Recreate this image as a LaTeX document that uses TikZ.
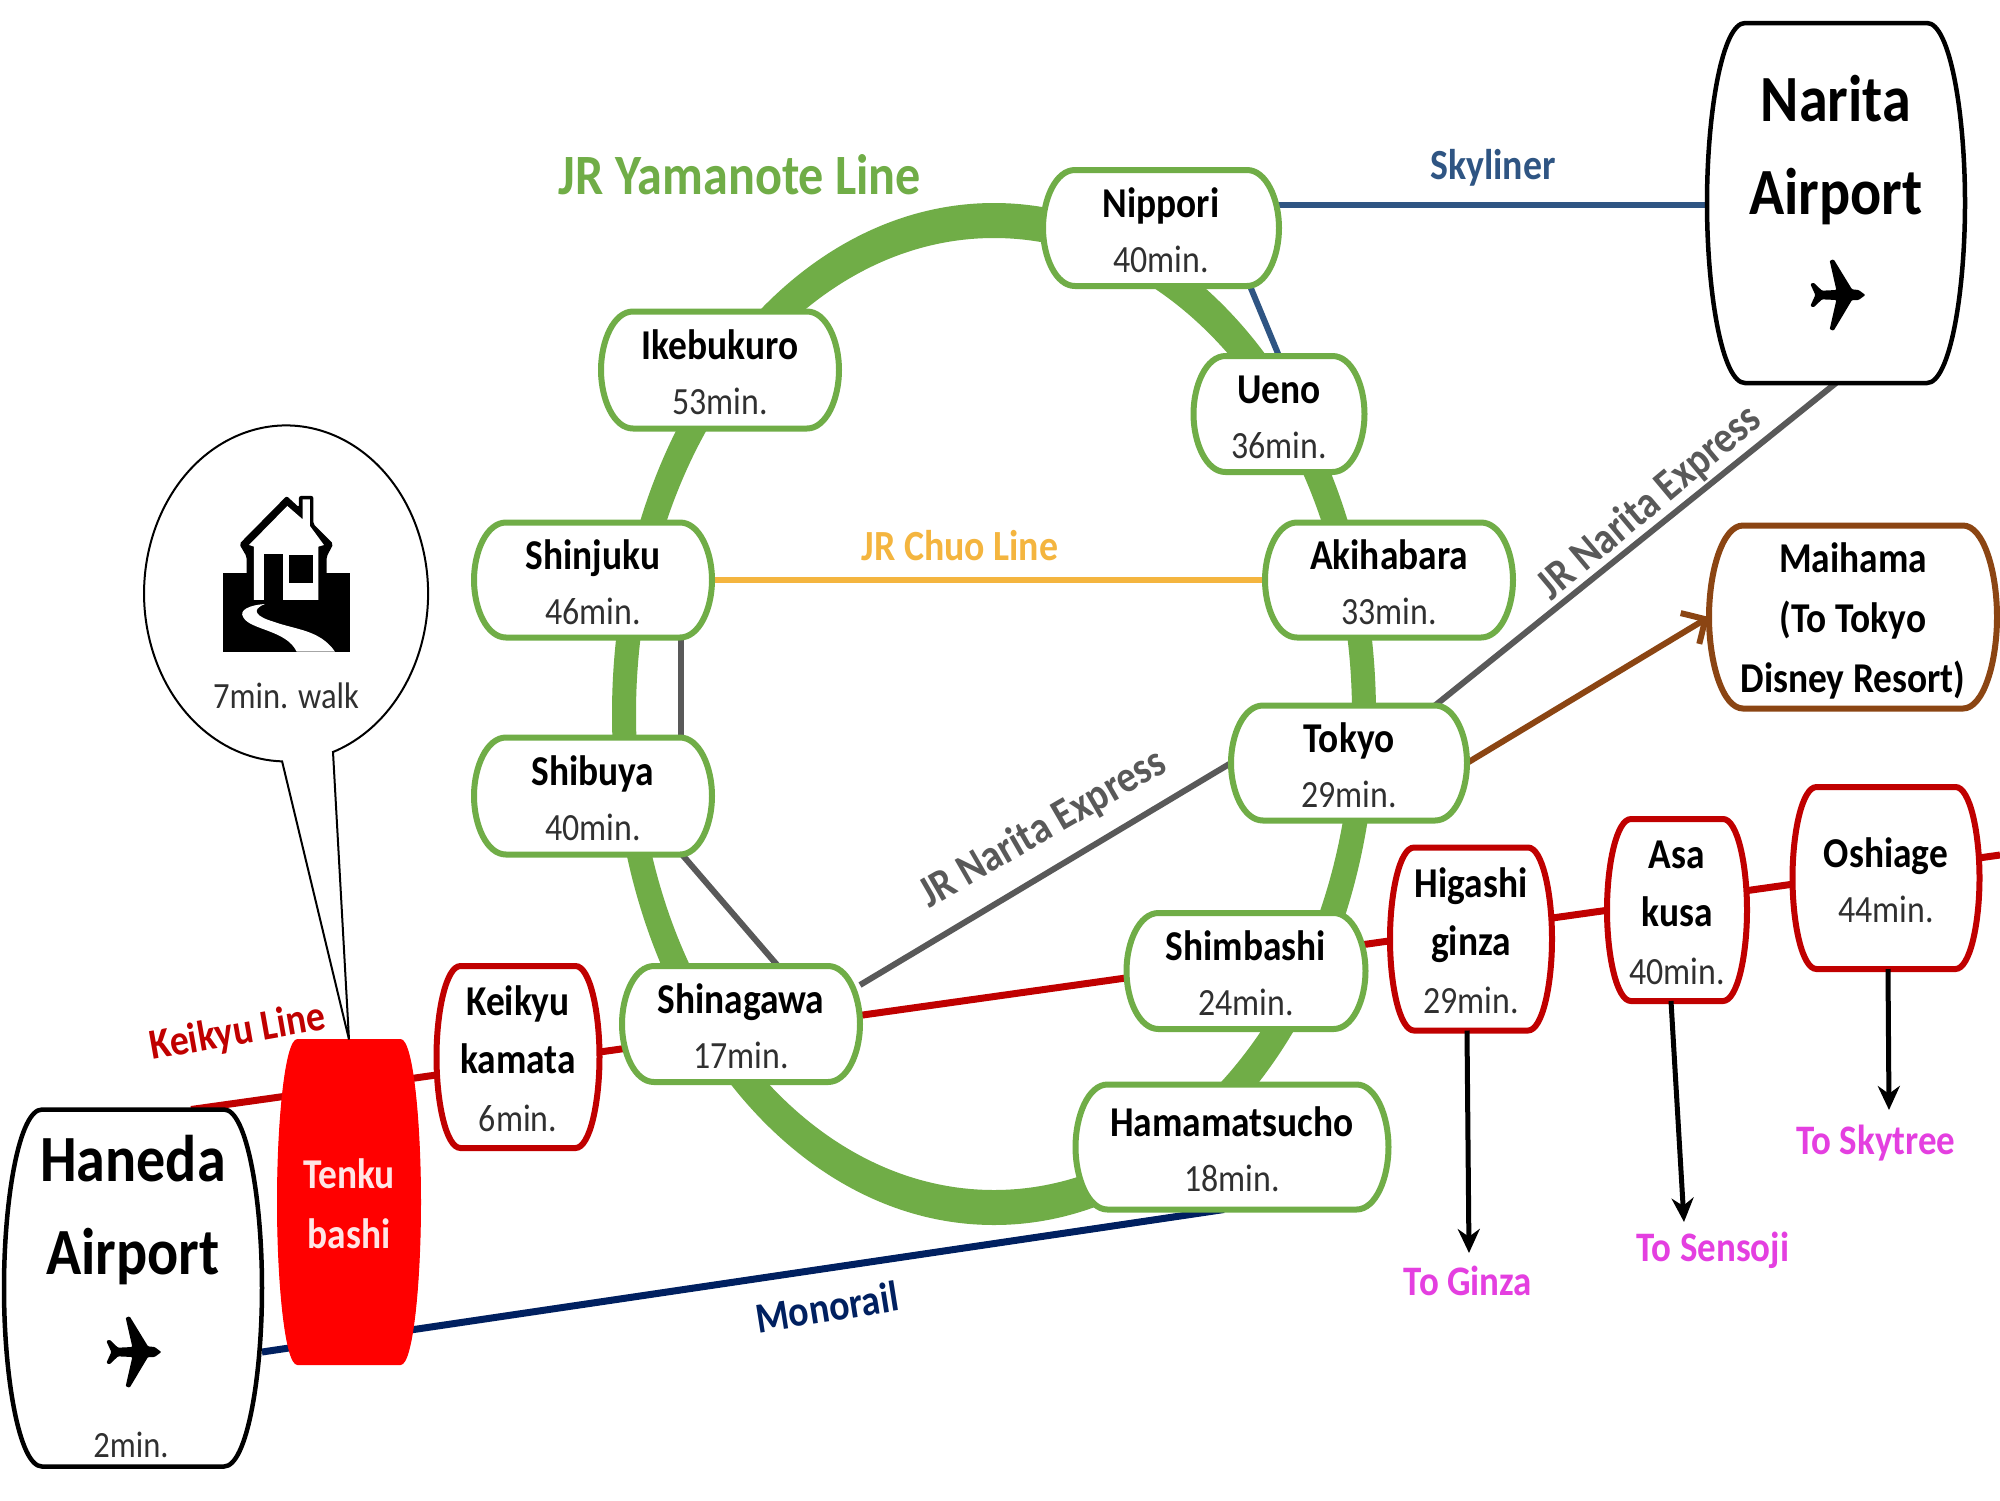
\documentclass[tikz,border=0pt]{standalone}
\usepackage{fontspec}
\setmainfont[FakeStretch=0.88]{Carlito}
\usetikzlibrary{arrows.meta}
\pgfdeclarelayer{bg}
\pgfsetlayers{bg,main}
\makeatletter
\newdimen\bxa \newdimen\bxb \newdimen\bya \newdimen\byb \newdimen\bym \newdimen\bhh
\def\barrelinset{30pt}
\pgfdeclareshape{barrel}{
  \inheritsavedanchors[from=rectangle]
  \saveddimen\binset{\pgf@x=\barrelinset}
  \inheritanchorborder[from=rectangle]
  \inheritanchor[from=rectangle]{center}
  \inheritanchor[from=rectangle]{north}
  \inheritanchor[from=rectangle]{south}
  \inheritanchor[from=rectangle]{east}
  \inheritanchor[from=rectangle]{west}
  \inheritanchor[from=rectangle]{base}
  \inheritanchor[from=rectangle]{mid}
  \backgroundpath{
    \southwest \bxa=\pgf@x \bya=\pgf@y
    \northeast \bxb=\pgf@x \byb=\pgf@y
    \bym=\dimexpr(\bya+\byb)/2\relax
    \bhh=\dimexpr(\byb-\bya)/4\relax
    \pgfpathmoveto{\pgfqpoint{\dimexpr\bxa+\binset\relax}{\byb}}
    \pgfpathlineto{\pgfqpoint{\dimexpr\bxb-\binset\relax}{\byb}}
    \pgfpathcurveto{\pgfqpoint{\dimexpr\bxb-\binset*2/5\relax}{\byb}}{\pgfqpoint{\bxb}{\dimexpr\bym+\bhh\relax}}{\pgfqpoint{\bxb}{\bym}}
    \pgfpathcurveto{\pgfqpoint{\bxb}{\dimexpr\bym-\bhh\relax}}{\pgfqpoint{\dimexpr\bxb-\binset*2/5\relax}{\bya}}{\pgfqpoint{\dimexpr\bxb-\binset\relax}{\bya}}
    \pgfpathlineto{\pgfqpoint{\dimexpr\bxa+\binset\relax}{\bya}}
    \pgfpathcurveto{\pgfqpoint{\dimexpr\bxa+\binset*2/5\relax}{\bya}}{\pgfqpoint{\bxa}{\dimexpr\bym-\bhh\relax}}{\pgfqpoint{\bxa}{\bym}}
    \pgfpathcurveto{\pgfqpoint{\bxa}{\dimexpr\bym+\bhh\relax}}{\pgfqpoint{\dimexpr\bxa+\binset*2/5\relax}{\byb}}{\pgfqpoint{\dimexpr\bxa+\binset\relax}{\byb}}
    \pgfpathclose
  }
}
\makeatother
\definecolor{jrgreen}{HTML}{70AD47}
\definecolor{kred}{HTML}{C00000}
\definecolor{navy}{HTML}{002060}
\definecolor{skyblue}{HTML}{2F5583}
\definecolor{chuo}{HTML}{F4B53F}
\definecolor{nexgrey}{HTML}{595959}
\definecolor{disney}{HTML}{8B4513}
\definecolor{pinkto}{HTML}{E43FE0}
\definecolor{timegrey}{HTML}{303030}
\newcommand{\nm}[1]{{\fontsize{42.5pt}{55pt}\selectfont\bfseries #1}}
\newcommand{\tm}[1]{{\fontsize{38.5pt}{55pt}\selectfont\color{timegrey}#1}}
\tikzset{
  barrel inset/.code={\def\barrelinset{#1}},
  stnbase/.style={shape=barrel,fill=white,inner sep=0pt,outer sep=0pt,align=center},
  twolines/.style={font=\fontsize{40pt}{55pt}\selectfont,text height=91pt,text depth=3pt},
  threelines/.style={font=\fontsize{40pt}{58pt}\selectfont,text height=151pt,text depth=3pt},
  grn/.style={stnbase,twolines,draw=jrgreen,line width=6pt,barrel inset=32pt},
  redn/.style={stnbase,threelines,draw=kred,line width=6pt,barrel inset=24pt},
  brownn/.style={stnbase,draw=disney,line width=6pt,barrel inset=34pt,font=\fontsize{40pt}{60pt}\selectfont,text height=153pt,text depth=3pt},
  airport/.style={stnbase,draw=black,line width=4.5pt,barrel inset=38pt},
  tenkun/.style={stnbase,draw=red,fill=red,line width=1pt,barrel inset=20pt,text=white!90!red,font=\fontsize{40pt}{60pt}\selectfont,text height=95pt,text depth=3pt},
  bigtxt/.style={align=center,inner sep=0pt,font=\fontsize{66pt}{93pt}\selectfont\bfseries},
  linelabel/.style={inner sep=0pt,font=\fontsize{43pt}{50pt}\selectfont\bfseries},
  nexlabel/.style={linelabel,text=nexgrey,font=\fontsize{44.5pt}{50pt}\selectfont\bfseries},
  tolabel/.style={inner sep=0pt,text=pinkto,font=\fontsize{42pt}{46pt}\selectfont\bfseries},
  smalltxt/.style={inner sep=0pt,text=timegrey,font=\fontsize{37pt}{46pt}\selectfont},
  conn/.style={line width=6pt},
  bigarrow/.style={line width=5pt,black,-{Stealth[length=24pt,width=22pt]}},
  plane/.pic={\fill[x=0.3333pt,y=-0.3333pt,rounded corners=1pt]
    (85,0)--(65,-15)--(45,-17)--(-10,-107)--(-22,-103)--(-2,-15)--(-45,-13)--(-70,-37)--(-80,-33)--(-65,0)--(-80,33)--(-70,37)--(-45,13)--(-2,15)--(-22,103)--(-10,107)--(45,15)--(65,15)--cycle;}
}
\begin{document}
\begin{tikzpicture}[x=1pt,y=-1pt]
\useasboundingbox (0,0) rectangle (2000,1500);
% stations
\node[grn,minimum width=236pt,minimum height=116pt] (nippori) at (1161,228) {\nm{Nippori}\\\tm{40min.}};
\node[grn,minimum width=171pt,minimum height=116pt] (ueno) at (1279,414) {\nm{Ueno}\\\tm{36min.}};
\node[grn,minimum width=248pt,minimum height=115pt] (akihabara) at (1389,580) {\nm{Akihabara}\\\tm{33min.}};
\node[grn,minimum width=236pt,minimum height=115pt] (tokyo) at (1349,763) {\nm{Tokyo}\\\tm{29min.}};
\node[grn,minimum width=239pt,minimum height=116pt] (shimbashi) at (1246,971) {\nm{Shimbashi}\\\tm{24min.}};
\node[grn,minimum width=313pt,minimum height=125pt] (hamamatsucho) at (1232,1147) {\nm{Hamamatsucho}\\\tm{18min.}};
\node[grn,minimum width=238pt,minimum height=116pt] (shinagawa) at (741,1024) {\nm{Shinagawa}\\\tm{17min.}};
\node[grn,minimum width=238pt,minimum height=117pt] (shibuya) at (593,796) {\nm{Shibuya}\\\tm{40min.}};
\node[grn,minimum width=238pt,minimum height=115pt] (shinjuku) at (593,580) {\nm{Shinjuku}\\\tm{46min.}};
\node[grn,minimum width=238pt,minimum height=117pt] (ikebukuro) at (720,370) {\nm{Ikebukuro}\\\tm{53min.}};
\node[redn,minimum width=163pt,minimum height=182pt] (kamata) at (518,1057) {\nm{Keikyu}\\\nm{kamata}\\\tm{6min.}};
\node[redn,minimum width=162pt,minimum height=183pt] (higashi) at (1471,939) {\nm{Higashi}\\\nm{ginza}\\\tm{29min.}};
\node[redn,minimum width=140pt,minimum height=182pt] (asakusa) at (1677,910) {\nm{Asa}\\\nm{kusa}\\\tm{40min.}};
\node[redn,twolines,minimum width=187pt,minimum height=182pt] (oshiage) at (1886,878) {\nm{Oshiage}\\\tm{44min.}};
\node[brownn,minimum width=288pt,minimum height=183pt] (maihama) at (1853,617) {\nm{Maihama}\\\nm{(To Tokyo}\\\nm{Disney Resort)}};
\node[tenkun,minimum width=143pt,minimum height=325pt] (tenku) at (349,1202) {\nm{Tenku}\\\nm{bashi}};
% airports
\node[airport,minimum width=258pt,minimum height=360pt] (narita) at (1836,203) {};
\node[bigtxt] (naritatxt) at (1836,150) {Narita\\Airport};
\pic at (1837,295) {plane};
\node[airport,minimum width=258pt,minimum height=357pt] (haneda) at (133,1288) {};
\node[bigtxt] (hanedatxt) at (133,1210) {Haneda\\Airport};
\pic at (133,1352) {plane};
\node[smalltxt] (twomin) at (131,1445) {2min.};
% callout
\draw[line width=2pt,fill=white] (333,752) arc[start angle=-70.7,end angle=268.4,x radius=142pt,y radius=168pt] -- (tenku.north) -- cycle;
\node[smalltxt] (walk) at (286,696) {7min. walk};
% house icon
\begin{scope}[shift={(100,400)},x=0.3333pt,y=-0.3333pt]
\fill (370,518) rectangle (750,755);
\fill[rounded corners=2pt] (418,432)--(560,288)--(597,322)--(597,288)--(640,288)--(640,372)--(700,432)--(680,470)--(680,530)--(440,530)--(440,470)--cycle;
\fill[white] (447,435)--(562,318)--(608,358)--(608,298)--(630,298)--(630,378)--(672,435)--(655,440)--(655,600)--(462,600)--(462,440)--cycle;
\fill (492,462) rectangle (548,610);
\fill (568,464) rectangle (640,548);
\fill[white] (495,612) .. controls (450,615) and (415,630) .. (430,652) .. controls (450,690) and (560,690) .. (590,755) -- (705,755) .. controls (660,690) and (590,690) .. (520,665) .. controls (470,650) and (450,630) .. (495,612) -- cycle;
\end{scope}
% labels
\node[linelabel,text=jrgreen,font=\fontsize{57pt}{60pt}\selectfont\bfseries] (yamanote) at (740,175) {JR Yamanote Line};
\node[linelabel,text=skyblue] (skyliner) at (1493,168) {Skyliner};
\node[linelabel,text=chuo] (chuolabel) at (960,546) {JR Chuo Line};
\node[nexlabel,rotate=30] (nex1) at (1043,829) {JR Narita Express};
\node[nexlabel,rotate=40] (nex2) at (1650,503) {JR Narita Express};
\node[linelabel,text=kred,rotate=10] (keikyuline) at (238,1033) {Keikyu Line};
\node[linelabel,text=navy,rotate=9] (monorail) at (827,1307) {Monorail};
\node[tolabel] (toginza) at (1468,1281) {To Ginza};
\node[tolabel] (tosensoji) at (1713,1250) {To Sensoji};
\node[tolabel] (toskytree) at (1876,1143) {To Skytree};
\coordinate (ginzaend) at (1469,1253);
\coordinate (sensojiend) at (1684,1222);
\coordinate (skytreeend) at (1889,1110);
\coordinate (redend) at (2000,855);
% connectors and ring
\begin{pgfonlayer}{bg}
\fill[white] (0,0) rectangle (2000,1500);
\fill[jrgreen,even odd rule] (994,714) ellipse [x radius=382pt,y radius=511pt] (994,714) ellipse [x radius=358pt,y radius=476pt];
\draw[conn,skyblue] ([yshift=23pt]nippori.center) -- ([yshift=-2pt]narita.center);
\draw[conn,skyblue] ([xshift=89pt]nippori.south) -- (ueno.north);
\draw[conn,chuo] (shinjuku.east) -- (akihabara.west);
\draw[conn,nexgrey] ([xshift=88pt]shinjuku.south) -- ([xshift=88pt]shibuya.north);
\draw[conn,nexgrey] ([xshift=89pt]shibuya.south) -- ([xshift=37pt]shinagawa.north);
\draw[conn,nexgrey] ([yshift=39pt]shinagawa.east) -- (tokyo.west);
\draw[conn,nexgrey] ([xshift=86pt]tokyo.north) -- (narita.south);
\draw[conn,disney,line width=6pt,-{Straight Barb[length=18pt,width=36pt]}] (tokyo.east) -- (maihama.west);
\draw[kred,line width=7pt] ([xshift=58pt]haneda.north) -- (redend);
\draw[navy,line width=7pt] ([yshift=-64pt]haneda.east) -- ([xshift=-8pt]hamamatsucho.south);
\end{pgfonlayer}
\draw[bigarrow] ([xshift=-4pt]higashi.south) -- (ginzaend);
\draw[bigarrow] ([xshift=-6pt]asakusa.south) -- (sensojiend);
\draw[bigarrow] ([xshift=2pt]oshiage.south) -- (skytreeend);
\end{tikzpicture}
\end{document}
